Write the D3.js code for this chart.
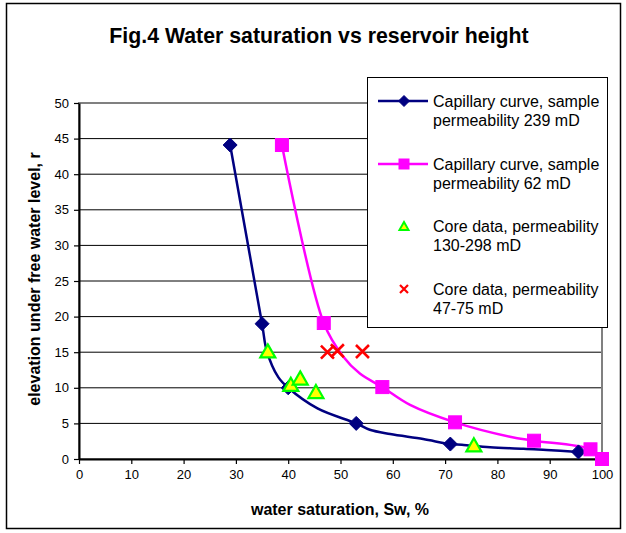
<!DOCTYPE html>
<html><head><meta charset="utf-8">
<script src="https://cdn.jsdelivr.net/npm/d3@7"></script>
<style>body{margin:0;background:#fff}svg{display:block}text{font-family:"Liberation Sans",Arial,sans-serif}</style>
</head><body><svg id="c" width="626" height="533"></svg>
<script>
// ---- data ----
const xTicks = [0,10,20,30,40,50,60,70,80,90,100];
const yTicks = [0,5,10,15,20,25,30,35,40,45,50];
// capillary curve 239 mD: markers
const cap239Sw = [28.9, 35.0, 40.0, 53.0, 71.0, 95.5];
const cap239H  = [44.1, 19.0, 10.0, 5.0, 2.1, 1.0];
// capillary curve 239 mD: smoothed line vertices
const cap239LineSw = [28.9, 35.0, 35.9, 38.1, 40.0, 45.6, 53.0, 55.6, 59.5, 65.8, 71.0, 73.2, 78.6, 85.0, 89.4, 95.5];
const cap239LineH  = [44.1, 19.0, 15.2, 11.5, 10.0, 7.1, 5.0, 4.1, 3.5, 2.8, 2.1, 2.0, 1.64, 1.45, 1.26, 1.0];
// capillary curve 62 mD: markers
const cap62Sw = [38.8, 46.8, 58.0, 71.9, 87.0, 97.8, 100.0];
const cap62H  = [44.1, 19.1, 10.1, 5.15, 2.57, 1.36, 0.0];
// capillary curve 62 mD: smoothed line vertices
const cap62LineSw = [38.8, 46.8, 50.5, 53.7, 58.0, 63.3, 71.9, 82.4, 87.0, 97.8, 100.0];
const cap62LineH  = [44.1, 19.1, 14.4, 12.0, 10.1, 7.6, 5.15, 3.13, 2.57, 1.36, 0.0];
// core data
const coreHighSw = [36.1, 40.5, 42.3, 45.3, 75.5];
const coreHighH  = [15.0, 10.3, 11.2, 9.3, 1.8];
const coreLowSw  = [47.5, 49.4, 54.2];
const coreLowH   = [15.0, 15.2, 15.1];
const legendLabels = [
  ["Capillary curve, sample","permeability 239 mD"],
  ["Capillary curve, sample","permeability 62 mD"],
  ["Core data, permeability","130-298 mD"],
  ["Core data, permeability","47-75 mD"]
];
const title = "Fig.4 Water saturation vs reservoir height";
const xTitle = "water saturation, Sw, %";
const yTitle = "elevation under free water level, r";

// ---- drawing ----
const svg = d3.select("#c");
const NAVY="#000080", PINK="#FF00FF", GREEN="#00FF00", YEL="#FFFF00", RED="#FF0000";
const x = d3.scaleLinear().domain([0,100]).range([79,602]);
const y = d3.scaleLinear().domain([0,50]).range([459,103]);

svg.append("rect").attr("x",6.5).attr("y",3.5).attr("width",614).attr("height",525)
  .attr("fill","#fff").attr("stroke","#000").attr("stroke-width",1.5);

svg.append("text").attr("x",319).attr("y",43).attr("text-anchor","middle")
  .attr("font-size",21.3).attr("font-weight","bold").text(title);

// gridlines
svg.append("g").selectAll("line").data(yTicks.filter(d=>d>0 && d<50)).join("line")
  .attr("x1",x(0)).attr("x2",x(100)).attr("y1",d=>y(d)).attr("y2",d=>y(d))
  .attr("stroke","#000").attr("stroke-width",1);
// plot border (gray)
svg.append("rect").attr("x",x(0)).attr("y",y(50)).attr("width",x(100)-x(0)).attr("height",y(0)-y(50))
  .attr("fill","none").attr("stroke","#808080").attr("stroke-width",2);

// axes
const gx = svg.append("g").attr("transform",`translate(0,${y(0)})`)
  .call(d3.axisBottom(x).tickValues(xTicks).tickSize(5).tickSizeOuter(0).tickPadding(6));
const gy = svg.append("g").attr("transform",`translate(${x(0)},0)`)
  .call(d3.axisLeft(y).tickValues(yTicks).tickSize(5).tickSizeOuter(0).tickPadding(5));
[gx,gy].forEach(g=>{
  g.select(".domain").attr("stroke","#000").attr("stroke-width",2);
  g.selectAll(".tick line").attr("stroke","#000").attr("stroke-width",1.2);
  g.selectAll(".tick text").attr("font-size",13).attr("fill","#000").attr("font-family","Liberation Sans, Arial, sans-serif");
});

svg.append("text").attr("x",340).attr("y",515).attr("text-anchor","middle")
  .attr("font-size",16).attr("font-weight","bold").text(xTitle);
svg.append("text").attr("transform","translate(40,279) rotate(-90)").attr("text-anchor","middle")
  .attr("font-size",16).attr("font-weight","bold").text(yTitle);

// lines
const line = d3.line().x(d=>x(d[0])).y(d=>y(d[1])).curve(d3.curveCatmullRom.alpha(0.5));
const zip = (a,b)=>a.map((v,i)=>[v,b[i]]);
svg.append("path").datum(zip(cap239LineSw,cap239LineH)).attr("d",line)
  .attr("fill","none").attr("stroke",NAVY).attr("stroke-width",2.5);
svg.append("path").datum(zip(cap62LineSw,cap62LineH)).attr("d",line)
  .attr("fill","none").attr("stroke",PINK).attr("stroke-width",2.5);

// marker helpers
function diamond(g,cx,cy,r){g.append("path").attr("d",`M${cx},${cy-r}L${cx+r},${cy}L${cx},${cy+r}L${cx-r},${cy}Z`).attr("fill",NAVY).attr("stroke",NAVY).attr("stroke-width",1);}
function square(g,cx,cy,r){g.append("rect").attr("x",cx-r).attr("y",cy-r).attr("width",2*r).attr("height",2*r).attr("fill",PINK).attr("stroke",PINK).attr("stroke-width",1);}
function tri(g,cx,cy,r,sw){g.append("path").attr("d",`M${cx},${cy-r}L${cx+r*1.0},${cy+r*0.75}L${cx-r*1.0},${cy+r*0.75}Z`).attr("fill",YEL).attr("stroke",GREEN).attr("stroke-width",sw).attr("stroke-linejoin","miter");}
function cross(g,cx,cy,r,sw){g.append("path").attr("d",`M${cx-r},${cy-r}L${cx+r},${cy+r}M${cx-r},${cy+r}L${cx+r},${cy-r}`).attr("stroke",RED).attr("stroke-width",sw).attr("fill","none");}

const mk = svg.append("g");
zip(cap239Sw,cap239H).forEach(d=>diamond(mk,x(d[0]),y(d[1]),7));
zip(cap62Sw,cap62H).forEach(d=>square(mk,x(d[0]),y(d[1]),6.5));
zip(coreLowSw,coreLowH).forEach(d=>cross(mk,x(d[0]),y(d[1]),6.5,2.6));
zip(coreHighSw,coreHighH).forEach(d=>tri(mk,x(d[0]),y(d[1]+0.05),7.5,2.2));

// legend
const lg = svg.append("g");
lg.append("rect").attr("x",367.5).attr("y",77.5).attr("width",240).attr("height",250)
  .attr("fill","#fff").attr("stroke","#000").attr("stroke-width",1);
const rowY = [101, 164, 226, 289];
lg.append("line").attr("x1",378).attr("x2",428).attr("y1",rowY[0]).attr("y2",rowY[0]).attr("stroke",NAVY).attr("stroke-width",2.5);
diamond(lg,404,rowY[0],5.5);
lg.append("line").attr("x1",378).attr("x2",428).attr("y1",rowY[1]).attr("y2",rowY[1]).attr("stroke",PINK).attr("stroke-width",2.5);
square(lg,404,rowY[1],5);
tri(lg,404,rowY[2]+0.5,4.5,2);
cross(lg,404,rowY[3],4,2.2);
legendLabels.forEach((lines,i)=>{
  const t = lg.append("text").attr("x",433).attr("y",rowY[i]+6).attr("font-size",16);
  lines.forEach((s,j)=>t.append("tspan").attr("x",433).attr("dy",j?18.5:0).text(s));
});
</script></body></html>
